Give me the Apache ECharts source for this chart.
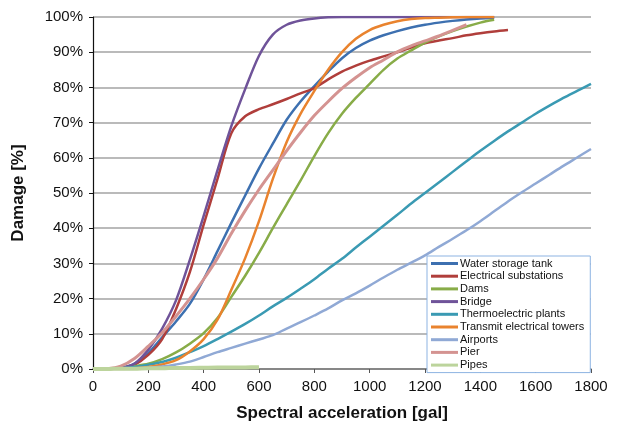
<!DOCTYPE html>
<html>
<head>
<meta charset="utf-8">
<script src="https://cdn.jsdelivr.net/npm/echarts@6/dist/echarts.min.js"></script>
<style>
  html, body { margin: 0; padding: 0; background: #fff; }
  #chart { width: 618px; height: 429px; }
</style>
</head>
<body>
<div id="chart"></div>
<script>
// spectral acceleration [gal], one point every 50 gal
const accel = [0, 50, 100, 150, 200, 250, 300, 350, 400, 450, 500, 550, 600, 650, 700, 750, 800, 850, 900,
  950, 1000, 1050, 1100, 1150, 1200, 1250, 1300, 1350, 1400, 1450, 1500, 1550, 1600, 1650, 1700, 1750, 1800];

// damage [%] (each list stops where its curve stops)
const waterTank = [0, 0, 0.3, 1.5, 4.5, 9, 13.5, 18.5, 25.5, 33.5, 41.5, 49.3, 57, 64, 70.8, 76, 80.4, 84.5, 88.3,
  91.2, 93.3, 94.8, 96, 97, 97.8, 98.4, 98.9, 99.3, 99.6, 99.8];
const substations = [0, 0, 0.2, 1.2, 4, 8.5, 17, 27.5, 41, 54, 67, 71.8, 73.8, 75.2, 76.7, 78.3, 79.8, 82.3, 84.5,
  86.2, 87.6, 88.8, 90, 91.3, 92.5, 93.3, 94, 94.8, 95.4, 95.9, 96.3];
const dams = [0, 0, 0.2, 0.8, 1.5, 2.8, 4.7, 7.2, 10.2, 14.5, 20.5, 26.5, 33, 40, 46.8, 53.5, 60.5, 67, 72.5,
  77, 81, 85, 88.2, 90.5, 92.7, 94.5, 96, 97.3, 98.4, 99.2];
const bridge = [0, 0, 0.3, 1.5, 5.5, 11.5, 19.5, 31, 43.5, 56.5, 69, 79.5, 89, 95, 97.8, 99, 99.6, 99.9, 100,
  100, 100, 100, 100, 100, 100, 100, 100, 100, 100, 100];
const thermo = [0, 0, 0.2, 0.6, 1.2, 2, 3.2, 4.8, 6.5, 8.5, 10.6, 12.8, 15.2, 17.8, 20.2, 22.8, 25.5, 28.5, 31.3,
  34.5, 37.6, 40.7, 43.8, 47, 50, 53, 56, 59, 62, 64.8, 67.5, 70, 72.5, 74.8, 77, 79, 81];
const towers = [0, 0, 0, 0.2, 0.6, 1.3, 2.5, 5, 8.5, 14, 22.5, 31.5, 42, 54, 64.5, 72.5, 79, 85, 90,
  93.8, 96.3, 97.8, 98.8, 99.4, 99.7, 99.8, 99.9, 100, 100, 100];
const airports = [0, 0, 0, 0.1, 0.3, 0.7, 1.3, 2.1, 3.4, 4.8, 6, 7.2, 8.4, 9.6, 11.5, 13.3, 15.2, 17.2, 19.5,
  21.5, 23.7, 26, 28.2, 30.2, 32.3, 34.7, 37, 39.4, 42, 44.8, 47.6, 50.2, 52.7, 55.2, 57.7, 60.1, 62.5];
const pier = [0, 0.1, 0.8, 3, 6.5, 10.3, 15, 20, 25.5, 31.5, 38.5, 45, 51, 56.5, 62, 67.2, 72, 76, 79.7,
  82.8, 85.6, 87.8, 90.1, 91.8, 93.2, 94.6, 96.2, 97.8];
const pipes = [0, 0, 0.1, 0.1, 0.2, 0.2, 0.3, 0.3, 0.35, 0.4, 0.4, 0.45, 0.5];

const yTicks = [0, 10, 20, 30, 40, 50, 60, 70, 80, 90, 100];

const curves = [
  { name: "Water storage tank", values: waterTank, color: "#3D70B0", width: 2.5 },
  { name: "Electrical substations", values: substations, color: "#B03E3B", width: 2.5 },
  { name: "Dams", values: dams, color: "#88AC48", width: 2.5 },
  { name: "Bridge", values: bridge, color: "#6F5399", width: 2.5 },
  { name: "Thermoelectric plants", values: thermo, color: "#3A9AB3", width: 2.5 },
  { name: "Transmit electrical towers", values: towers, color: "#E9832E", width: 2.5 },
  { name: "Airports", values: airports, color: "#90A9D5", width: 2.5 },
  { name: "Pier", values: pier, color: "#D49391", width: 3 },
  { name: "Pipes", values: pipes, color: "#BCD49C", width: 4 },
];

const chart = echarts.init(document.getElementById("chart"));
const font = "'Liberation Sans', Arial, Helvetica, sans-serif";

chart.setOption({
  animation: false,
  textStyle: { fontFamily: font },
  grid: { left: 93, right: 27, top: 17, bottom: 60, outerBoundsMode: "none", containLabel: false },
  legend: {
    orient: "vertical",
    left: 427,
    top: 256,
    padding: [2, 6, 2, 4],
    icon: "rect",
    itemWidth: 27,
    itemHeight: 3,
    itemGap: 1.7,
    borderColor: "#8DB3E2",
    borderWidth: 1,
    backgroundColor: "#fff",
    textStyle: { fontSize: 11, lineHeight: 11, color: "#111", fontFamily: font, padding: [0, 0, 0, -3] },
    data: curves.map((c) => c.name),
  },
  xAxis: {
    type: "value",
    min: 0,
    max: 1800,
    interval: 200,
    name: "Spectral acceleration [gal]",
    nameLocation: "middle",
    nameGap: 36,
    nameTextStyle: { fontSize: 17, fontWeight: "bold", color: "#111" },
    axisLine: { lineStyle: { color: "#777", width: 1.5 } },
    axisTick: { show: true, length: 4, lineStyle: { color: "#555" } },
    axisLabel: { fontSize: 15, color: "#111", margin: 10, formatter: (v) => String(v) },
    splitLine: { show: false },
  },
  yAxis: {
    type: "value",
    min: 0,
    max: 100,
    interval: 10,
    name: "Damage [%]",
    nameLocation: "middle",
    nameGap: 66,
    nameTextStyle: { fontSize: 17, fontWeight: "bold", color: "#111" },
    axisLine: { show: true, lineStyle: { color: "#111", width: 1.2 } },
    axisTick: { show: true, length: 4, lineStyle: { color: "#111" } },
    axisLabel: {
      fontSize: 15,
      color: "#111",
      margin: 10,
      formatter: (v) => (yTicks.includes(v) ? v + "%" : ""),
    },
    splitLine: { show: true, lineStyle: { color: "#A3A3A3", width: 1.5 } },
  },
  series: curves.map((c) => ({
    name: c.name,
    type: "line",
    smooth: 0.3,
    symbol: "none",
    color: c.color,
    lineStyle: { width: c.width, color: c.color },
    data: c.values.map((v, i) => [accel[i], v]),
  })),
});
</script>
</body>
</html>
